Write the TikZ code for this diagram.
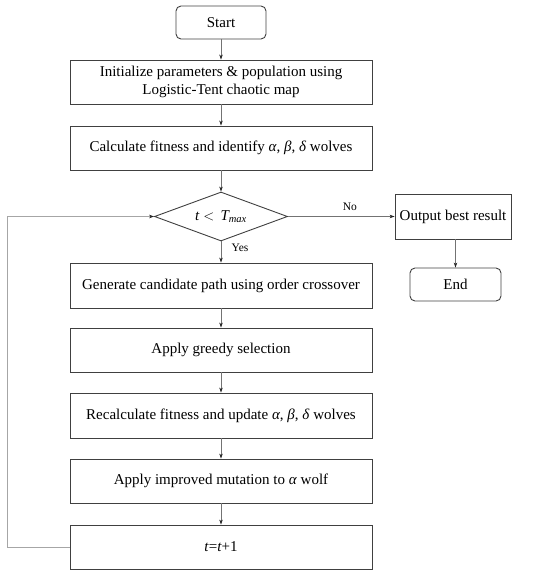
\documentclass[tikz,border=0pt]{standalone}
\usepackage{fontspec}
\setmainfont{Liberation Serif}
\usetikzlibrary{shapes.geometric,arrows.meta}
\begin{document}
\begin{tikzpicture}[x=1pt,y=-1pt,
  box/.style={draw=black!75,line width=0.9pt,minimum width=302pt,minimum height=44pt,align=center,font=\fontsize{15}{18}\selectfont,inner sep=0pt},
  term/.style={draw=black!75,line width=0.9pt,rounded corners=5pt,minimum height=33pt,font=\fontsize{15}{18}\selectfont,inner sep=0pt},
  dec/.style={draw=black!75,line width=0.9pt,diamond,aspect=2.7,minimum width=133pt,minimum height=49pt,inner sep=0pt,font=\fontsize{15}{18}\selectfont},
  conn/.style={draw=black!55,line width=0.6pt,-{Stealth[length=5pt,width=3.5pt,color=black!85]}},
  lab/.style={font=\fontsize{11.5}{13}\selectfont}]
\useasboundingbox (0,0) rectangle (550,575);
\node[term,minimum width=90pt] (start) at (221,22.5) {Start};
\node[box] (init) at (221,82) {Initialize parameters \& population using\\Logistic-Tent chaotic map};
\node[box] (calc) at (221,148) {Calculate fitness and identify \textit{α}, \textit{β}, \textit{δ} wolves};
\node[dec] (cond) at (221,216.5) {\textit{t} $<$\, \textit{T\textsubscript{max}}};
\node[box,minimum width=116pt,minimum height=45pt] (out) at (453,216.5) {Output best result};
\node[term,minimum width=91pt] (end) at (455.5,284.5) {End};
\node[box,minimum height=45pt] (gen) at (221,285.5) {Generate candidate path using order crossover};
\node[box] (greedy) at (221,350) {Apply greedy selection};
\node[box,minimum height=45pt] (recalc) at (221,415.5) {Recalculate fitness and update \textit{α}, \textit{β}, \textit{δ} wolves};
\node[box] (mut) at (221,481) {Apply improved mutation to \textit{α} wolf};
\node[box] (inc) at (221,547) {\textit{t}=\textit{t}+1};
\coordinate (c1) at (7,547);
\coordinate (c2) at (7,216.5);
\draw[conn] (start) -- (init);
\draw[conn] (init) -- (calc);
\draw[conn] (calc) -- (cond);
\draw[conn] (cond) -- node[lab,pos=0.3,right=7pt]{Yes} (gen);
\draw[conn] (cond) -- node[lab,pos=0.58,above=2pt]{No} (out);
\draw[conn] (out.south -| end) -- (end);
\draw[conn] (gen) -- (greedy);
\draw[conn] (greedy) -- (recalc);
\draw[conn] (recalc) -- (mut);
\draw[conn] (mut) -- (inc);
\draw[conn,draw=black!35] (inc.west) -- (c1) -- (c2) -- (cond.west);
\end{tikzpicture}
\end{document}
